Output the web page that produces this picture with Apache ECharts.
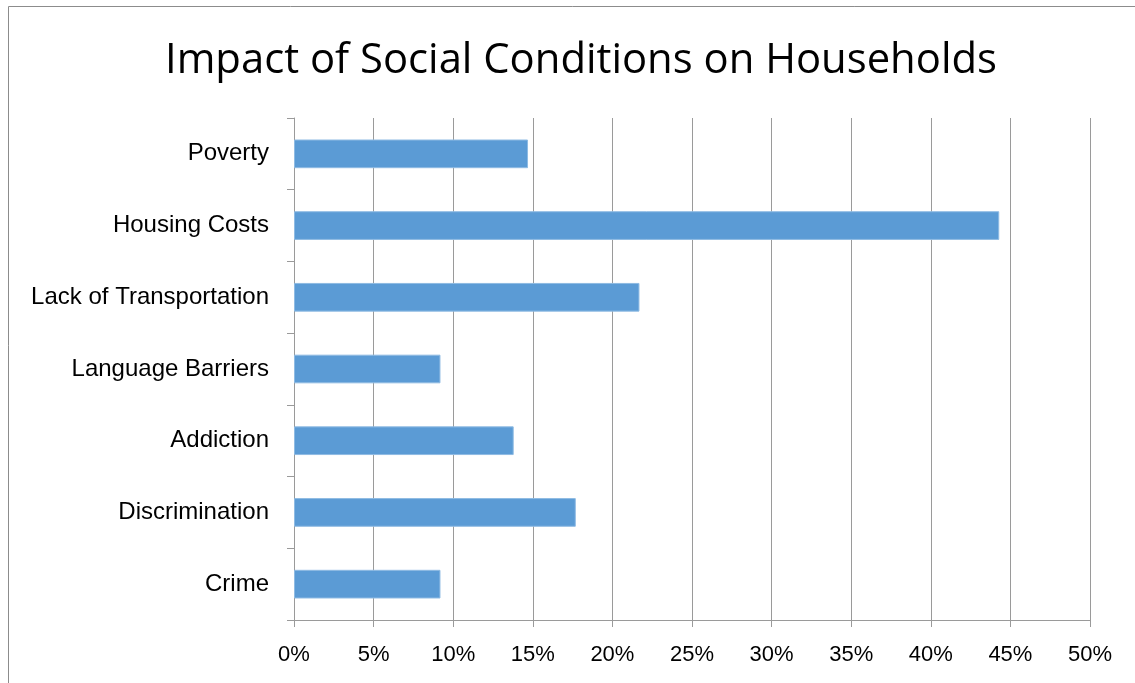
<!DOCTYPE html>
<html>
<head>
<meta charset="utf-8">
<script src="https://cdn.jsdelivr.net/npm/echarts@6/dist/echarts.min.js"></script>
<style>
  body { margin: 0; background: #fff; }
  #chart { width: 1135px; height: 683px; }
</style>
</head>
<body>
<div id="chart"></div>
<script>
// categories top to bottom
var categories = ['Poverty', 'Housing Costs', 'Lack of Transportation', 'Language Barriers', 'Addiction', 'Discrimination', 'Crime'];
// share of households, percent
var shares = [14.7, 44.3, 21.7, 9.2, 13.8, 17.7, 9.2];
var xTicks = [0, 5, 10, 15, 20, 25, 30, 35, 40, 45, 50];

var chart = echarts.init(document.getElementById('chart'));

chart.setOption({
    animation: false,
    textStyle: { fontFamily: 'Liberation Sans' },
    graphic: [{
        type: 'rect',
        shape: { x: 8.5, y: 6.5, width: 1300, height: 900 },
        style: { fill: 'none', stroke: '#8c8c8c', lineWidth: 1 },
        silent: true
    }],
    title: {
        text: 'Impact of Social Conditions on Households',
        left: 160,
        top: 35,
        textStyle: { fontFamily: 'Open Sans', fontSize: 41.8, fontWeight: 'normal', color: '#000' }
    },
    grid: { left: 294, right: 45, top: 118, bottom: 63 },
    xAxis: {
        type: 'value',
        min: xTicks[0],
        max: xTicks[xTicks.length - 1],
        interval: 5,
        axisLine: { show: true, lineStyle: { color: '#9a9a9a' } },
        axisTick: { show: true, length: 7, lineStyle: { color: '#9a9a9a' } },
        splitLine: { show: true, lineStyle: { color: '#9a9a9a', width: 1 } },
        axisLabel: { formatter: '{value}%', color: '#000', fontSize: 22, margin: 24 }
    },
    yAxis: {
        type: 'category',
        data: categories,
        inverse: true,
        axisLine: { show: true, lineStyle: { color: '#9a9a9a' } },
        axisTick: { show: true, length: 7, lineStyle: { color: '#9a9a9a' } },
        axisLabel: { color: '#000', fontSize: 24, margin: 25 }
    },
    series: [{
        type: 'bar',
        data: shares,
        barCategoryGap: '60%',
        itemStyle: { color: '#5b9bd5', borderColor: '#8fbbe3', borderWidth: 1 }
    }]
});
</script>
</body>
</html>
